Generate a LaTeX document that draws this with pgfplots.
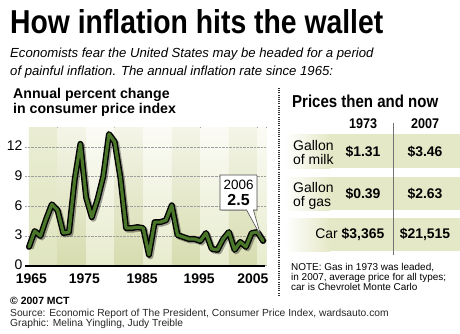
\documentclass[border=0pt]{standalone}
\usepackage{pgfplots}
\pgfplotsset{compat=1.18}
\usepackage{fontspec}
\setmainfont{Liberation Sans}
\usepackage{graphicx}
\definecolor{lineGreen}{RGB}{74,118,42}
\definecolor{bandDarkBot}{RGB}{214,220,174}
\definecolor{bandDarkTop}{RGB}{244,245,232}
\definecolor{bandLightBot}{RGB}{232,236,206}
\definecolor{bandLightTop}{RGB}{251,251,245}
\definecolor{bandFirstTop}{RGB}{234,237,211}
\definecolor{bandFirstBot}{RGB}{224,229,192}
\definecolor{rowGreen}{RGB}{229,232,198}

\pgfplotstableread{
year cpi
1965 1.9
1966 3.5
1967 3.0
1968 4.7
1969 6.2
1970 5.6
1971 3.3
1972 3.4
1973 8.7
1974 12.3
1975 6.9
1976 4.9
1977 6.7
1978 9.0
1979 13.3
1980 12.5
1981 8.9
1982 3.8
1983 3.8
1984 3.9
1985 3.8
1986 1.1
1987 4.4
1988 4.4
1989 4.6
1990 6.1
1991 3.1
1992 2.9
1993 2.7
1994 2.7
1995 2.5
1996 3.3
1997 1.7
1998 1.6
1999 2.7
2000 3.4
2001 1.6
2002 2.4
2003 1.9
2004 3.3
2005 3.4
2006 2.5
}\cpidata

\begin{document}
\begin{tikzpicture}[x=1bp,y=1bp]
\path (0,0) rectangle (460,333);

% Title and subtitle
\node[anchor=base west, inner sep=0] at (10,300) {\resizebox{373bp}{24bp}{\bfseries How inflation hits the wallet}};
\node[anchor=base west, inner sep=0] at (10,276) {\fontsize{13.2}{15}\selectfont\itshape Economists fear the United States may be headed for a period};
\node[anchor=base west, inner sep=0] at (10,258) {\fontsize{13.2}{15}\selectfont\itshape of painful inflation. The annual inflation rate since 1965:};

% Chart heading
\node[anchor=base west, inner sep=0] at (13,235) {\fontsize{14.2}{15}\selectfont\bfseries Annual percent change};
\node[anchor=base west, inner sep=0] at (13,220) {\fontsize{14.2}{15}\selectfont\bfseries in consumer price index};

\begin{axis}[
  at={(25bp,67.3bp)}, anchor=south west,
  scale only axis, width=240.4bp, height=141.6bp,
  xmin=1964.3, xmax=2006.4, ymin=0, ymax=14.3,
  set layers, clip=false,
  axis lines=left, axis line style={-},
  x axis line style={line width=1.8bp, black},
  y axis line style={draw=none},
  major tick length=0,
  ytick={0,3,6,9,12},
  xtick={1965.4,1974.7,1984.8,1994.8,2004.2},
  xticklabels={1965,1975,1985,1995,2005},
  ymajorgrids,
  grid style={densely dotted, gray!75, line width=0.6bp},
  /pgf/number format/assume math mode=true,
  yticklabel style={font=\fontsize{14}{14}\selectfont, xshift=1bp, yshift=1bp},
  xticklabel style={font=\fontsize{14}{14}\selectfont\bfseries, yshift=-5bp},
]
% background bands
\begin{pgfonlayer}{axis background}
\fill[top color=bandFirstTop, bottom color=bandFirstBot] (axis cs:1965,0) rectangle (axis cs:1970,14);
\fill[top color=bandDarkTop, bottom color=bandDarkBot] (axis cs:1970,0) rectangle (axis cs:1975,14);
\fill[top color=bandLightTop, bottom color=bandLightBot] (axis cs:1975,0) rectangle (axis cs:1980,14);
\fill[top color=bandDarkTop, bottom color=bandDarkBot] (axis cs:1980,0) rectangle (axis cs:1985,14);
\fill[top color=bandLightTop, bottom color=bandLightBot] (axis cs:1985,0) rectangle (axis cs:1990,14);
\fill[top color=bandDarkTop, bottom color=bandDarkBot] (axis cs:1990,0) rectangle (axis cs:1995,14);
\fill[top color=bandLightTop, bottom color=bandLightBot] (axis cs:1995,0) rectangle (axis cs:2000,14);
\fill[top color=bandDarkTop, bottom color=bandDarkBot] (axis cs:2000,0) rectangle (axis cs:2005,14);
\fill[top color=bandLightTop, bottom color=bandLightBot] (axis cs:2005,0) rectangle (axis cs:2006.6,14);
\end{pgfonlayer}

% line: shadow, outline, green
\addplot[black, opacity=0.35, line width=6bp, line join=round, xshift=1.5bp, yshift=-1.5bp] table[x=year, y=cpi] {\cpidata};
\addplot[black, line width=6bp, line join=round, line cap=round] table[x=year, y=cpi] {\cpidata};
\addplot[lineGreen, line width=3.2bp, line join=round, line cap=round] table[x=year, y=cpi] {\cpidata};

% callout
\fill[gray, opacity=0.4, xshift=1.5bp, yshift=-1.5bp] (axis cs:1998.45,9.16) rectangle (axis cs:2004.9,5.63);
\draw[fill=white, draw=black!70, line width=0.6bp] (axis cs:1998.45,9.16) -- (axis cs:2004.9,9.16) -- (axis cs:2004.9,5.63) -- (axis cs:2004.3,5.63) -- (axis cs:2005.6,3.0) -- (axis cs:2003.1,5.63) -- (axis cs:1998.45,5.63) -- cycle;
\node[font=\fontsize{13.5}{14}\selectfont] at (axis cs:2001.7,8.15) {2006};
\node[font=\fontsize{16}{16}\selectfont\bfseries] at (axis cs:2001.7,6.6) {2.5};
\end{axis}

% Divider
\draw[black!80, line width=1.3bp, dash pattern=on 1bp off 1.2bp] (279,245) -- (279,37);

% Right panel
\node[anchor=base west, inner sep=0] at (292,226) {\resizebox{146bp}{12.5bp}{\bfseries Prices then and now}};
\node[anchor=base, inner sep=0] at (363,205) {\resizebox{28bp}{9.8bp}{\bfseries 1973}};
\node[anchor=base, inner sep=0] at (425,205) {\resizebox{28bp}{9.8bp}{\bfseries 2007}};

% Row bands
\foreach \ya/\yb in {165/199, 123/156, 82/115} {
  \fill[left color=white, right color=rowGreen] (285,\ya) rectangle (330,\yb);
  \fill[rowGreen] (330,\ya) rectangle (460,\yb);
}
\draw[black!55, line width=0.6bp] (393,210) -- (393,78);

\begin{scope}[every node/.style={inner sep=0}]
\node[anchor=base west, font=\fontsize{14}{14}\selectfont] at (293,183) {Gallon};
\node[anchor=base west, font=\fontsize{14}{14}\selectfont] at (293,169) {of milk};
\node[anchor=base, font=\fontsize{14}{14}\selectfont\bfseries] at (363,177) {\$1.31};
\node[anchor=base, font=\fontsize{14}{14}\selectfont\bfseries] at (425,177) {\$3.46};
\node[anchor=base west, font=\fontsize{14}{14}\selectfont] at (293,141) {Gallon};
\node[anchor=base west, font=\fontsize{14}{14}\selectfont] at (293,127) {of gas};
\node[anchor=base, font=\fontsize{14}{14}\selectfont\bfseries] at (363,135) {\$0.39};
\node[anchor=base, font=\fontsize{14}{14}\selectfont\bfseries] at (425,135) {\$2.63};
\node[anchor=base east, font=\fontsize{14}{14}\selectfont] at (338,94.5) {Car};
\node[anchor=base, font=\fontsize{14}{14}\selectfont\bfseries] at (363,94.5) {\$3,365};
\node[anchor=base, font=\fontsize{14}{14}\selectfont\bfseries] at (425,94.5) {\$21,515};

% Note
\node[anchor=base west, font=\fontsize{10}{10}\selectfont] at (291,63) {NOTE: Gas in 1973 was leaded,};
\node[anchor=base west, font=\fontsize{10}{10}\selectfont] at (291,53) {in 2007, average price for all types;};
\node[anchor=base west, font=\fontsize{10}{10}\selectfont] at (291,43) {car is Chevrolet Monte Carlo};

% Footer
\node[anchor=base west, font=\fontsize{10.5}{10.5}\selectfont\bfseries] at (10,29) {\textcopyright\ 2007 MCT};
\node[anchor=base west, font=\fontsize{10.3}{10.3}\selectfont, text=black!85] at (10,16.3) {Source: Economic Report of The President, Consumer Price Index, wardsauto.com};
\node[anchor=base west, font=\fontsize{10.3}{10.3}\selectfont, text=black!85] at (10,6.3) {Graphic: Melina Yingling, Judy Treible};
\end{scope}
\end{tikzpicture}
\end{document}
